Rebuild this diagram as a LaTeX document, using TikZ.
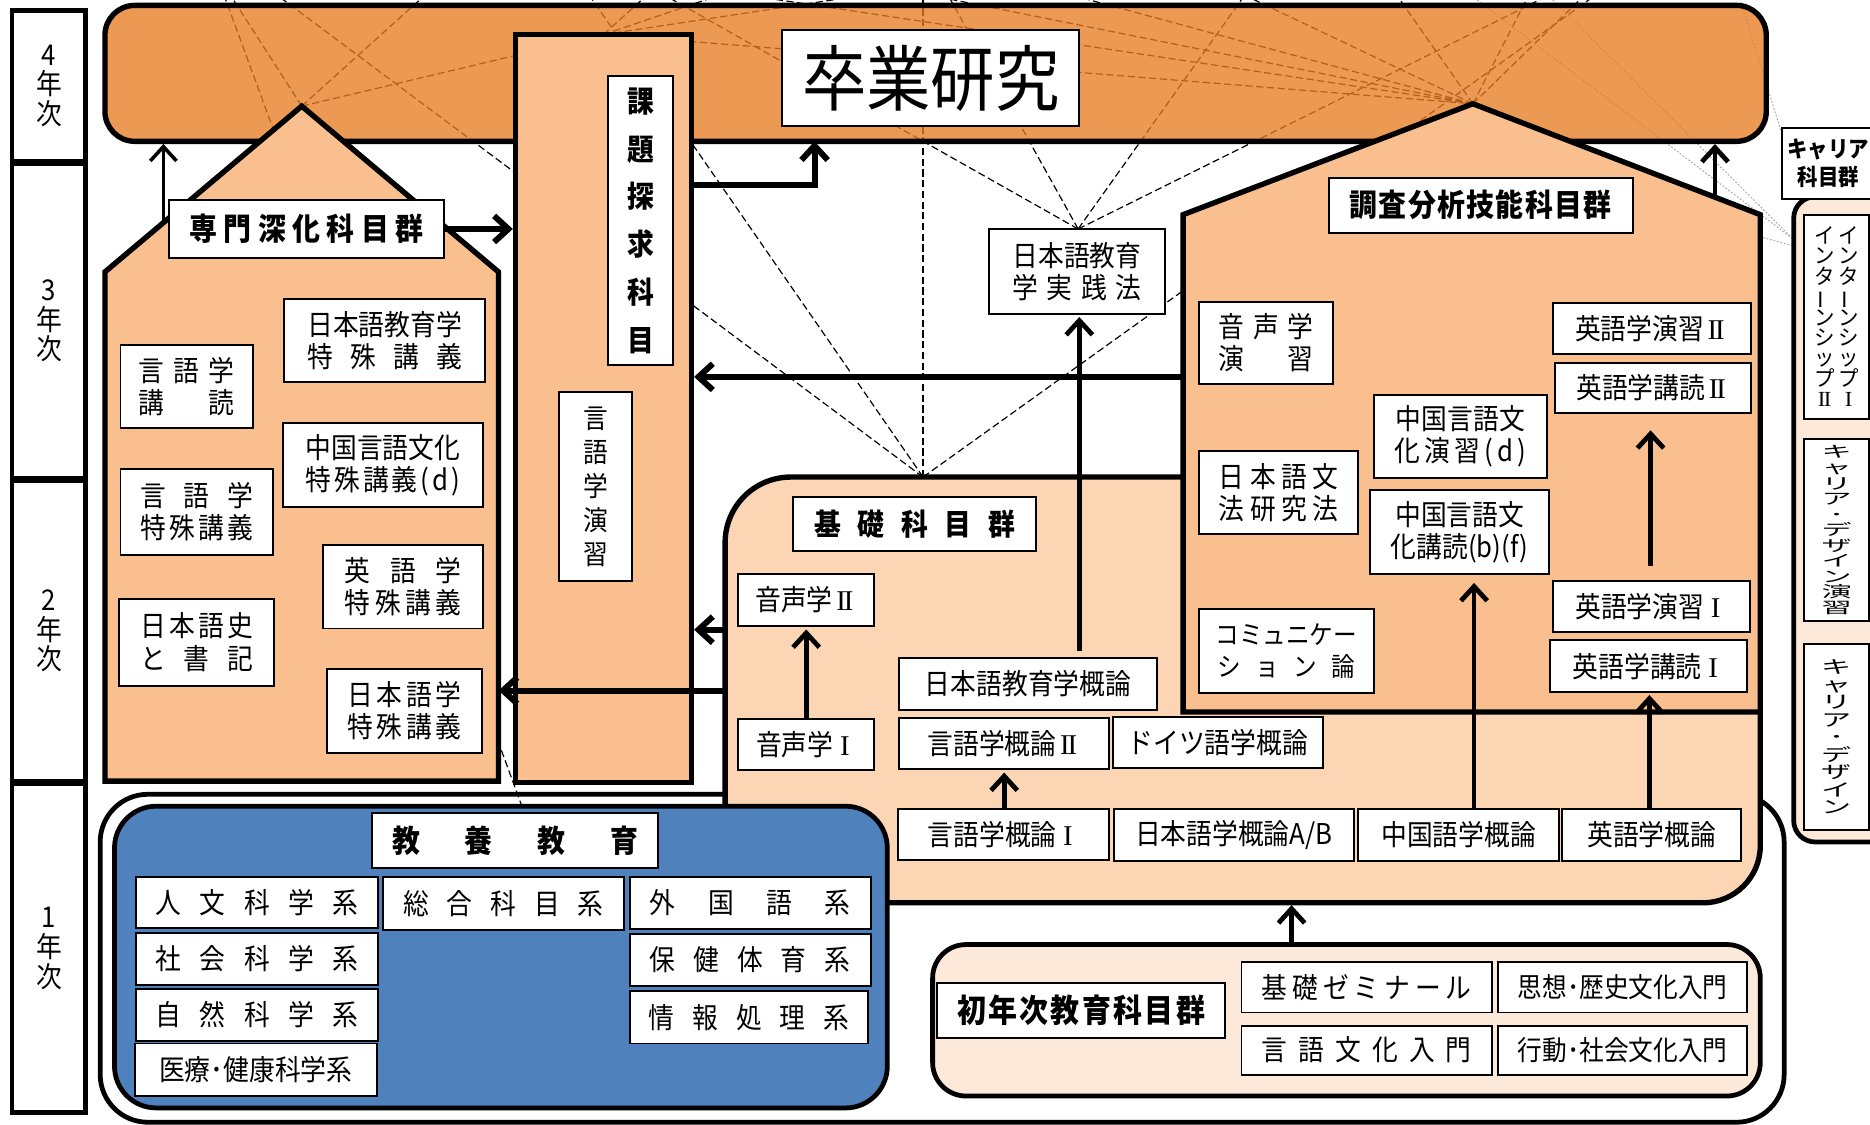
\documentclass[tikz,border=0pt]{standalone}
\usepackage{fontspec}
\usepackage{graphicx}
\setmainfont{Noto Sans CJK JP}[FakeStretch=0.9]
\newfontfamily\rmn{Liberation Serif}
\usetikzlibrary{arrows.meta}
\definecolor{bandc}{RGB}{231,124,36}
\definecolor{lorange}{RGB}{250,191,143}
\definecolor{peach}{RGB}{252,213,181}
\definecolor{pale}{RGB}{253,233,217}
\definecolor{kblue}{RGB}{79,129,189}
\newcommand\fz[2]{\fontsize{#1}{#2}\selectfont\lineskiplimit=-50pt\relax}
\newcommand\spr[2]{\makebox[#1pt][s]{\spaceskip=0pt plus 1fil\relax #2}}
\newcommand\bx[7][]{\node[wbox,minimum width={#5-#3},minimum height={#6-#4},#1] (#2) at ({(#3+#5)/2},{(#4+#6)/2}) {#7};}
\newcommand\vbar{\rotatebox[origin=c]{90}{ー}}
\newcommand\RI{\makebox[0.8em]{\rmn I}}
\newcommand\RII{\makebox[0.85em]{\rmn I\kern-0.07em I}}
\tikzset{
  wbox/.style={draw=black, line width=1.6pt, fill=white, inner sep=0pt, align=center, font=\fz{24}{27}},
  lab/.style={font=\bfseries\fz{26}{28}},
  yr/.style={line width=4pt, font=\fz{24}{25}},
  thk/.style={draw=black, line width=4.5pt, line join=miter},
  dl/.style={line width=1pt, dash pattern=on 6pt off 3pt},
  gl/.style={line width=0.8pt, gray!70, dash pattern=on 1.5pt off 1.5pt},
  arr/.style={line width=4pt, -{Straight Barb[length=12pt,width=22pt]}},
  arrT/.style={arr, line width=3pt},
  arrK/.style={arr, line width=5pt},
  vtx/.style={align=center, inner sep=0pt},
}
\begin{document}
\begin{tikzpicture}[x=1pt,y=-1pt]
\useasboundingbox (0,0) rectangle (1568,943);
% hubs of the dashed fan lines
\coordinate (H1) at (253,89);
\coordinate (H2) at (506,29);
\coordinate (H3) at (1235,87);
\coordinate (H4) at (904,192);
\coordinate (H5) at (774,400);
\coordinate (KY) at (438,677);
\foreach \x in {183,374} \draw[dl] (H1) -- (\x,-20);
\draw[dl] (H1) -- (H2);
\foreach \x in {560,650,830} \draw[dl] (H2) -- (\x,-20);
\draw[dl] (H2) -- (H3);
\foreach \x in {520,700,840,1010,1160,1290,1345} \draw[dl] (H3) -- (\x,-20);
\foreach \x in {529,786,1055,1331} \draw[dl] (H4) -- (\x,-20);
\foreach \x in {211,483,774,1360} \draw[dl] (H5) -- (\x,-20);
\draw[dl] (KY) -- (182,-20);
\draw[gl] (1503,200) -- (1212,-20);
\draw[gl] (1503,200) -- (1282,-20);
\draw[gl] (1494,112) -- (1453,-20);
\draw[gl] (1503,206) -- (1300,150);
% graduation research band
\node[draw=black, line width=4.5pt, fill=bandc, fill opacity=0.78, rounded corners=25pt, minimum width=1393, minimum height=114, inner sep=0pt] (band) at (784.5,61.5) {};
% first-year container
\draw[line width=4pt, rounded corners=40pt] (84,666) rectangle (1496,941);
% kiso region
\draw[thk, fill=peach] (608,757) [rounded corners=55pt] -- (608,400) -- (1100,400) [sharp corners] -- (1476,400) [rounded corners=48pt] -- (1476,757) -- (900,757) [sharp corners] -- cycle;
% column
\node[draw=black, line width=4pt, fill=lorange, minimum width=148, minimum height=627, inner sep=0pt] (col) at (506,342.5) {};
% houses
\draw[thk, fill=lorange] (88,655) -- (88,228) -- (253,89) -- (418,228) -- (418,655) -- cycle;
\draw[thk, fill=lorange] (992,597) -- (992,180) -- (1235,87) -- (1476,180) -- (1476,597) -- cycle;
% blue, first year, career
\draw[line width=4pt, fill=kblue, rounded corners=35pt] (96,676) rectangle (744,929);
\draw[line width=4pt, fill=pale, rounded corners=28pt] (782,792) rectangle (1476,919);
\draw[line width=4pt, fill=pale, rounded corners=18pt] (1504,165) rectangle (1600,706);
% year column
\bx[yr]{y4}{10}{9}{72}{135}{4\\年\\次}
\bx[yr]{y3}{10}{137}{72}{401}{3\\年\\次}
\bx[yr]{y2}{10}{403}{72}{655}{2\\年\\次}
\bx[yr]{y1}{10}{657}{72}{933}{1\\年\\次}
% top
\bx[font=\fz{60}{60}]{sotsu}{656}{25}{905}{106}{卒業研究}
\bx[font=\bfseries\fz{25}{40}]{kdt}{510}{64}{564}{306}{課\\題\\探\\求\\科\\目}
\bx[font=\fz{23}{28.5}]{ggs}{469}{329}{530}{487}{言\\語\\学\\演\\習}
% left house
\bx[lab]{senL}{142}{168}{372}{216}{\spr{196}{専 門 深 化 科 目 群}}
\bx{jkt}{238}{251}{407}{320}{日本語教育学\\\spr{130}{特 殊 講 義}}
\bx{gkd}{101}{289}{212}{359}{\spr{80}{言 語 学}\\\spr{80}{講 読}}
\bx{cgt}{237}{355}{405}{425}{中国言語文化\\\spr{130}{特 殊 講 義 ( d )}}
\bx{gtk}{101}{393}{229}{465}{\spr{94}{言 語 学}\\\spr{94}{特 殊 講 義}}
\bx{etk}{271}{457}{405}{527}{\spr{98}{英 語 学}\\\spr{98}{特 殊 講 義}}
\bx{nsk}{100}{502}{230}{575}{\spr{95}{日 本 語 史}\\\spr{95}{と 書 記}}
\bx{ntk}{274}{561}{404}{631}{\spr{96}{日 本 語 学}\\\spr{96}{特 殊 講 義}}
% right house
\bx[lab]{chosaL}{1114}{149}{1369}{195}{\spr{220}{調 査 分 析 技 能 科 目 群}}
\bx{osn}{1005}{253}{1118}{322}{\spr{80}{音 声 学}\\\spr{80}{演 習}}
\bx{eg2}{1302}{254}{1468}{297}{英語学演習\RII}
\bx{ek2}{1304}{304}{1468}{346}{英語学講読\RII}
\bx{cgn}{1152}{331}{1297}{401}{中国言語文\\\spr{110}{化 演 習 ( d )}}
\bx{nbk}{1005}{378}{1139}{448}{\spr{100}{日 本 語 文}\\\spr{100}{法 研 究 法}}
\bx{cgd}{1149}{411}{1299}{481}{中国言語文\\化講読(b)(f)}
\bx[font=\fz{22}{27}]{com}{1005}{511}{1152}{581}{コミュニケー\\\spr{116}{シ ョ ン 論}}
\bx{eg1}{1302}{487}{1467}{530}{英語学演習\RI}
\bx{ek1}{1300}{537}{1465}{580}{英語学講読\RI}
% kiso
\bx{njp}{829}{192}{977}{263}{日本語教育\\\spr{108}{学 実 践 法}}
\bx[lab,font=\bfseries\fz{25}{28}]{kisoL}{665}{417}{869}{462}{\spr{168}{基 礎 科 目 群}}
\bx{on2}{619}{481}{733}{525}{音声学\RII}
\bx{on1}{619}{603}{733}{646}{音声学\RI}
\bx{ngk}{754}{552}{970}{595}{日本語教育学概論}
\bx{gg2}{754}{602}{930}{645}{言語学概論\RII}
\bx{dgk}{933}{601}{1109}{644}{ドイツ語学概論}
\bx{gg1}{753}{678}{930}{721}{言語学概論\RI}
\bx{ngg}{934}{678}{1135}{722}{日本語学概論A/B}
\bx{cgg}{1139}{678}{1307}{722}{中国語学概論}
\bx{egg}{1310}{678}{1460}{722}{英語学概論}
% kyoyo
\bx[lab]{kyoL}{312}{682}{552}{728}{\spr{206}{教 養 教 育}}
\bx{jinbun}{114}{735}{317}{778}{\spr{170}{人 文 科 学 系}}
\bx{sogo}{321}{735}{523}{780}{\spr{168}{総 合 科 目 系}}
\bx{gaik}{528}{735}{730}{779}{\spr{168}{外 国 語 系}}
\bx{shakai}{114}{782}{317}{826}{\spr{170}{社 会 科 学 系}}
\bx{hoken}{528}{783}{730}{827}{\spr{168}{保 健 体 育 系}}
\bx{shizen}{114}{829}{317}{873}{\spr{170}{自 然 科 学 系}}
\bx{joho}{528}{831}{728}{875}{\spr{168}{情 報 処 理 系}}
\bx{iryo}{113}{875}{316}{919}{医療･健康科学系}
% first year
\bx[lab,font=\bfseries\fz{27}{28}]{shoL}{786}{824}{1027}{870}{\spr{208}{初 年 次 教 育 科 目 群}}
\bx{kz}{1041}{807}{1251}{849}{\spr{176}{基 礎 ゼ ミ ナ ー ル}}
\bx[font=\fz{23}{26}]{shiso}{1256}{807}{1465}{849}{思想･歴史文化入門}
\bx{gbn}{1041}{860}{1251}{901}{\spr{176}{言 語 文 化 入 門}}
\bx[font=\fz{23}{26}]{kodo}{1256}{860}{1465}{901}{行動･社会文化入門}
% career
\bx[font=\bfseries\fz{19}{23}]{carL}{1494}{107}{1572}{167}{キャリア\\科目群}
\bx{intern}{1513}{180}{1567}{351}{}
\node[vtx, font=\fz{19}{18}, yscale=0.95] (int1) at (1550,265.5) {イ\\ン\\タ\\\vbar\\ン\\シ\\ッ\\プ\\\RI};
\node[vtx, font=\fz{19}{18}, yscale=0.95] (int2) at (1530,265.5) {イ\\ン\\タ\\\vbar\\ン\\シ\\ッ\\プ\\\RII};
\bx{cde}{1513}{368}{1567}{521}{}
\node[vtx, font=\fz{28}{28}, yscale=0.465] (cdet) at (cde) {キ\\ャ\\リ\\ア\\･\\デ\\ザ\\イ\\ン\\演\\習};
\bx{cd}{1513}{540}{1567}{696}{}
\node[vtx, font=\fz{28}{28}, yscale=0.525] (cdt) at (cd) {キ\\ャ\\リ\\ア\\･\\デ\\ザ\\イ\\ン};
% arrows
\coordinate (r1) at (137,187);
\draw[arrT] (r1) -- (r1 |- band.south);
\draw[arrK] (senL.east) -- (senL.east -| col.west);
\coordinate (c1) at (col.east |- 0,155);
\coordinate (c2) at (683,118.5);
\draw[arrK] (c1) -| (c2);
\coordinate (w1) at (992,316);
\draw[arrK] (w1) -- (w1 -| col.east);
\coordinate (k1) at (608,528);
\draw[arrK] (k1) -- (k1 -| col.east);
\coordinate (k2) at (608,579);
\coordinate (w2) at (418,579);
\draw[arrK] (k2) -- (w2);
\coordinate (r2) at (1438,165);
\draw[arr] (r2) -- (r2 |- band.south);
\draw[arr, shorten >=2pt] (on1.north) -- (on2.south);
\draw[arr, shorten >=2pt] (gg1.north -| 842,0) -- (gg2.south -| 842,0);
\coordinate (n1) at (905,546);
\draw[arr, shorten >=2pt] (n1) -- (n1 |- njp.south);
\coordinate (m1) at (1236,678);
\draw[arr, shorten >=7pt] (m1) -- (m1 |- cgd.south);
\coordinate (m2) at (1383,678);
\draw[arr, shorten >=2pt] (m2) -- (m2 |- ek1.south);
\coordinate (m3) at (1384,475);
\draw[arr, shorten >=14pt] (m3) -- (m3 |- ek2.south);
\coordinate (m4) at (1083,792);
\coordinate (m5) at (1083,759);
\draw[arr] (m4) -- (m5);
\end{tikzpicture}
\end{document}
